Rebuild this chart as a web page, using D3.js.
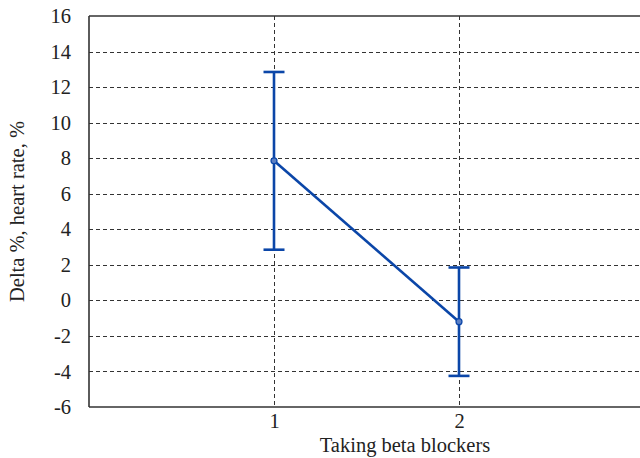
<!DOCTYPE html>
<html>
<head>
<meta charset="utf-8">
<script src="https://cdn.jsdelivr.net/npm/d3@7"></script>
<style>
  body { margin: 0; background: #fff; }
  svg { display: block; }
  text { font-family: "Liberation Serif", "Times New Roman", serif; fill: #222; }
</style>
</head>
<body>
<svg id="chart" width="640" height="458"></svg>
<script>
// Groups along the x axis
const groups = [1, 2];
// Mean change in heart rate (%) per group
const means = [7.85, -1.2];
// Error bar half-widths (%)
const errors = [5.0, 3.05];
// Axis ticks
const yTicks = [-6, -4, -2, 0, 2, 4, 6, 8, 10, 12, 14, 16];
const xTicks = [1, 2];

const svg = d3.select("#chart");
const margin = { left: 89, top: 16, bottom: 51 };
const W = 640, H = 458;
const plotRight = 644;
const fontSize = 20.5;

const x = d3.scaleLinear().domain([0, 3]).range([margin.left, plotRight]);
const y = d3.scaleLinear().domain([-6, 16]).range([H - margin.bottom, margin.top]);

const blue = "#0b46a8";
const gridColor = "#333";

// horizontal dashed grid
svg.append("g")
  .selectAll("line")
  .data(yTicks.filter(t => t > -6 && t < 16))
  .join("line")
  .attr("x1", margin.left).attr("x2", W)
  .attr("y1", d => Math.round(y(d)) + 0.5).attr("y2", d => Math.round(y(d)) + 0.5)
  .attr("stroke", gridColor).attr("stroke-width", 1)
  .attr("stroke-dasharray", "4,3");

// vertical dashed grid
svg.append("g")
  .selectAll("line")
  .data(xTicks)
  .join("line")
  .attr("x1", d => Math.round(x(d)) + 0.5).attr("x2", d => Math.round(x(d)) + 0.5)
  .attr("y1", y(16)).attr("y2", y(-6))
  .attr("stroke", gridColor).attr("stroke-width", 1)
  .attr("stroke-dasharray", "4,3");

// frame: left, bottom, top
const frame = svg.append("g").attr("stroke", "#333").attr("stroke-width", 1.6).attr("fill", "none");
frame.append("line").attr("x1", margin.left).attr("x2", margin.left).attr("y1", y(16)).attr("y2", y(-6));
frame.append("line").attr("x1", margin.left).attr("x2", W).attr("y1", y(-6)).attr("y2", y(-6));
frame.append("line").attr("x1", margin.left).attr("x2", W).attr("y1", y(16)).attr("y2", y(16));

// y axis labels (plain hyphen for negatives)
const yAxis = d3.axisLeft(y).tickValues(yTicks).tickSize(0).tickPadding(18)
  .tickFormat(d => String(d));
const gy = svg.append("g").attr("transform", `translate(${margin.left},0)`).call(yAxis);
gy.select(".domain").remove();
gy.selectAll("text").attr("font-size", fontSize).attr("font-family", "Liberation Serif").attr("fill", "#222");

// x axis labels
const xAxis = d3.axisBottom(x).tickValues(xTicks).tickSize(0).tickPadding(6)
  .tickFormat(d => String(d));
const gx = svg.append("g").attr("transform", `translate(0,${y(-6)})`).call(xAxis);
gx.select(".domain").remove();
gx.selectAll("text").attr("font-size", fontSize).attr("font-family", "Liberation Serif").attr("fill", "#222");

// axis titles
svg.append("text")
  .attr("x", 405).attr("y", 452)
  .attr("text-anchor", "middle")
  .attr("font-size", fontSize)
  .text("Taking beta blockers");

svg.append("text")
  .attr("transform", `translate(24,${(y(16) + y(-6)) / 2}) rotate(-90)`)
  .attr("text-anchor", "middle")
  .attr("font-size", fontSize)
  .text("Delta %, heart rate, %");

// data
const data = groups.map((g, i) => ({ g, m: means[i], e: errors[i] }));
const capW = 10.5;

const bars = svg.append("g").attr("stroke", blue).attr("stroke-width", 2.6).attr("fill", "none");
data.forEach(d => {
  const cx = x(d.g);
  bars.append("line").attr("x1", cx).attr("x2", cx).attr("y1", y(d.m + d.e)).attr("y2", y(d.m - d.e));
  bars.append("line").attr("x1", cx - capW).attr("x2", cx + capW).attr("y1", y(d.m + d.e)).attr("y2", y(d.m + d.e));
  bars.append("line").attr("x1", cx - capW).attr("x2", cx + capW).attr("y1", y(d.m - d.e)).attr("y2", y(d.m - d.e));
});

svg.append("path")
  .datum(data)
  .attr("fill", "none")
  .attr("stroke", blue)
  .attr("stroke-width", 2.6)
  .attr("d", d3.line().x(d => x(d.g)).y(d => y(d.m)));

svg.append("g")
  .selectAll("circle")
  .data(data)
  .join("circle")
  .attr("cx", d => x(d.g)).attr("cy", d => y(d.m))
  .attr("r", 3)
  .attr("fill", "#5b7fc4")
  .attr("stroke", blue).attr("stroke-width", 1.2);
</script>
</body>
</html>
